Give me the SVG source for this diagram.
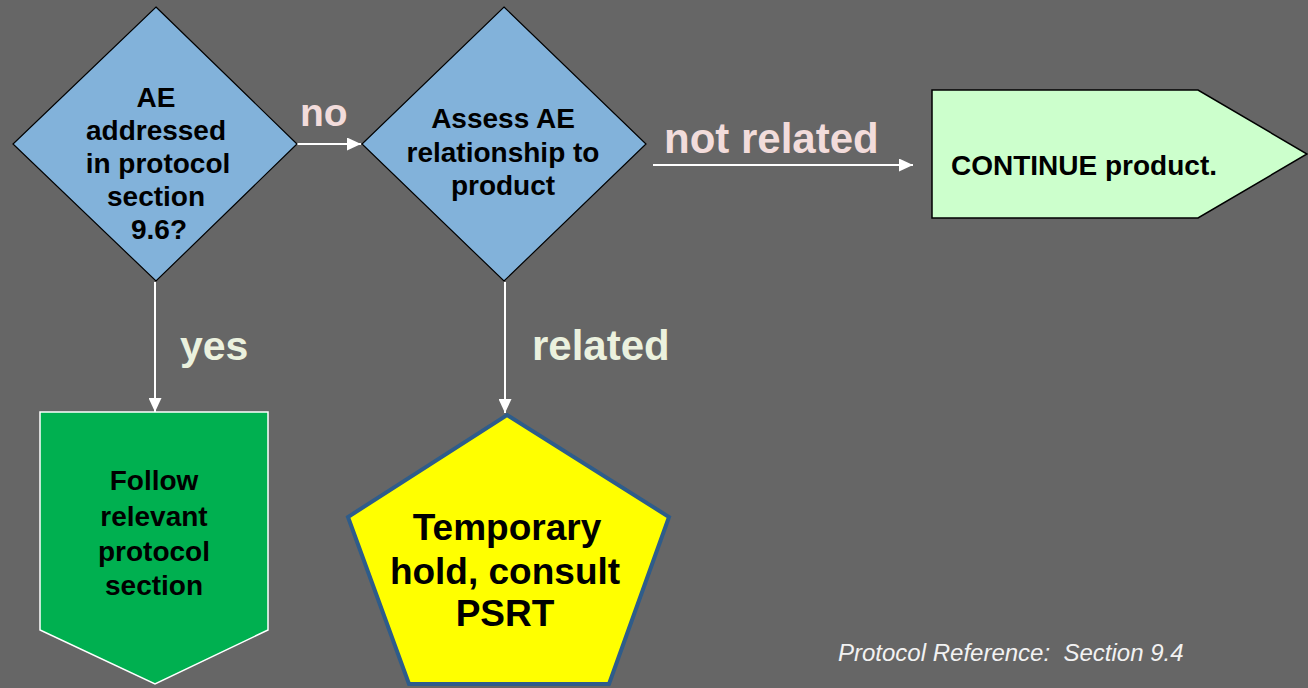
<svg xmlns="http://www.w3.org/2000/svg" width="1308" height="688" viewBox="0 0 1308 688">
<defs>
<style>
.t{font-family:"Liberation Sans",Arial,sans-serif;font-weight:bold;text-anchor:middle;fill:#000}
.lbl{font-family:"Liberation Sans",Arial,sans-serif;font-weight:bold;font-size:42px}
.pink{fill:#F2DCDB}
.cream{fill:#EBF1DE}
.dia{fill:#82B2DA;stroke:#000;stroke-width:1.2}
.conn{stroke:#fff;stroke-width:2;fill:none}
</style>
<marker id="ah" viewBox="0 0 10 10" refX="10" refY="5" markerWidth="14" markerHeight="13" markerUnits="userSpaceOnUse" orient="auto" preserveAspectRatio="none">
<path d="M0,0 L10,5 L0,10 z" fill="#fff"/>
</marker>
</defs>
<rect width="1308" height="688" fill="#666666"/>
<g id="connectors">
<line class="conn" x1="297" y1="144" x2="361" y2="144" marker-end="url(#ah)"/>
<line class="conn" x1="653" y1="165" x2="913" y2="165" marker-end="url(#ah)"/>
<line class="conn" x1="155" y1="282" x2="155" y2="412" marker-end="url(#ah)"/>
<line class="conn" x1="505" y1="282" x2="505" y2="413" marker-end="url(#ah)"/>
<text class="lbl pink" x="300" y="126" style="font-size:39px">no</text>
<text class="lbl pink" x="664" y="153">not related</text>
<text class="lbl cream" x="180" y="360" style="font-size:41px">yes</text>
<text class="lbl cream" x="532" y="360">related</text>
</g>
<g id="decision1">
<polygon class="dia" points="156,7 297,144 156,281 13,144"/>
<text class="t" font-size="28"><tspan x="156" y="107">AE</tspan><tspan x="156" y="140">addressed</tspan><tspan x="158" y="173">in protocol</tspan><tspan x="156" y="206">section</tspan><tspan x="159" y="239">9.6?</tspan></text>
</g>
<g id="decision2">
<polygon class="dia" points="504,7 646,144 504,281 362,144"/>
<text class="t" font-size="28"><tspan x="503" y="128">Assess AE</tspan><tspan x="503" y="162">relationship to</tspan><tspan x="503" y="195">product</tspan></text>
</g>
<g id="continue">
<polygon points="932,90 1198,90 1307,154 1198,218 932,218" fill="#CCFFCC" stroke="#000" stroke-width="1.5"/>
<text class="t" font-size="28" x="1084" y="175">CONTINUE product.</text>
</g>
<g id="follow">
<polygon points="40,412 268,412 268,630 155,684 40,630" fill="#00B050" stroke="#fff" stroke-width="1.5"/>
<text class="t" font-size="28"><tspan x="154" y="490">Follow</tspan><tspan x="154" y="526">relevant</tspan><tspan x="154" y="561">protocol</tspan><tspan x="154" y="595">section</tspan></text>
</g>
<g id="hold">
<polygon points="507,415 669,517 609,684 409,684 348,517" fill="#FFFF00" stroke="#2E5C8A" stroke-width="4" stroke-linejoin="miter"/>
<text class="t" font-size="37"><tspan x="507" y="540">Temporary</tspan><tspan x="505" y="584">hold, consult</tspan><tspan x="505" y="626">PSRT</tspan></text>
</g>
<text x="838" y="661" font-family="Liberation Sans,Arial,sans-serif" font-style="italic" font-size="24" fill="#F2F2F2" xml:space="preserve">Protocol Reference:  Section 9.4</text>
</svg>
